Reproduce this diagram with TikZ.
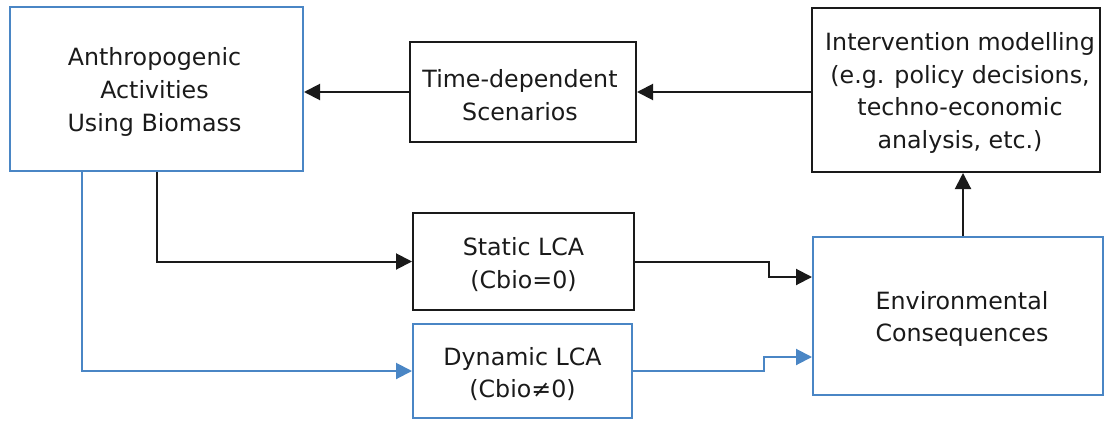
\documentclass[tikz,border=0pt]{standalone}
\usepackage{fontspec}
\setmainfont{DejaVu Sans}
\usetikzlibrary{arrows.meta,calc}
\definecolor{lblue}{HTML}{4A86C5}
\definecolor{dk}{HTML}{1A1A1A}
\begin{document}
\begin{tikzpicture}[x=0.75pt,y=-0.75pt,
  txt/.style={font=\fontsize{17.8pt}{24.6pt}\selectfont, text=dk, align=center, inner sep=0pt},
  bbox/.style={draw=dk, line width=1.5pt, rectangle, inner sep=0pt},
  blbox/.style={draw=lblue, line width=1.5pt, rectangle, inner sep=0pt},
  conn/.style={draw=dk, line width=1.5pt, -{Triangle[length=12pt,width=12pt]}},
  bconn/.style={draw=lblue, line width=1.5pt, -{Triangle[length=12pt,width=12pt]}}]
\useasboundingbox (0,0) rectangle (1105,421);
\node[blbox, minimum width=293*0.75pt, minimum height=164*0.75pt] (anthro) at (156.5,89) {};
\node[bbox, minimum width=226*0.75pt, minimum height=100*0.75pt] (time) at (523,92) {};
\node[bbox, minimum width=288*0.75pt, minimum height=164*0.75pt] (interv) at (956,90) {};
\node[bbox, minimum width=221*0.75pt, minimum height=97*0.75pt] (static) at (523.5,261.5) {};
\node[blbox, minimum width=219*0.75pt, minimum height=94*0.75pt] (dynamic) at (522.5,371) {};
\node[blbox, minimum width=290*0.75pt, minimum height=158*0.75pt] (env) at (958,316) {};
\node[txt] (anthrotxt) at ($(anthro)+(-2,3)$) {Anthropogenic\\Activities\\Using Biomass};
\node[txt] (timetxt) at ($(time)+(-3,3)$) {Time-dependent\\Scenarios};
\node[txt] (intervtxt) at ($(interv)+(4,3)$) {Intervention modelling\\(e.g. policy decisions,\\techno-economic\\analysis, etc.)};
\node[txt] (statictxt) at ($(static)+(0,3)$) {Static LCA\\(Cbio=0)};
\node[txt] (dynamictxt) at ($(dynamic)+(0,3)$) {Dynamic LCA\\(Cbio≠0)};
\node[txt] (envtxt) at ($(env)+(4,3)$) {Environmental\\Consequences};
\draw[conn] (interv.west |- time.east) -- (time.east);
\draw[conn] (time.west) -- (anthro.east |- time.west);
\draw[conn] (anthro.south) |- (static.west);
\draw[bconn] ($(anthro.south west)+(73,0)$) |- (dynamic.west);
\draw[conn] (static.east) -- ++(134,0) |- ($(env.west)+(0,-39)$);
\draw[bconn] (dynamic.east) -- ++(131,0) |- ($(env.west)+(0,41)$);
\draw[conn] ($(env.north)+(5,0)$) -- ($(interv.south)+(7,0)$);
\end{tikzpicture}
\end{document}
